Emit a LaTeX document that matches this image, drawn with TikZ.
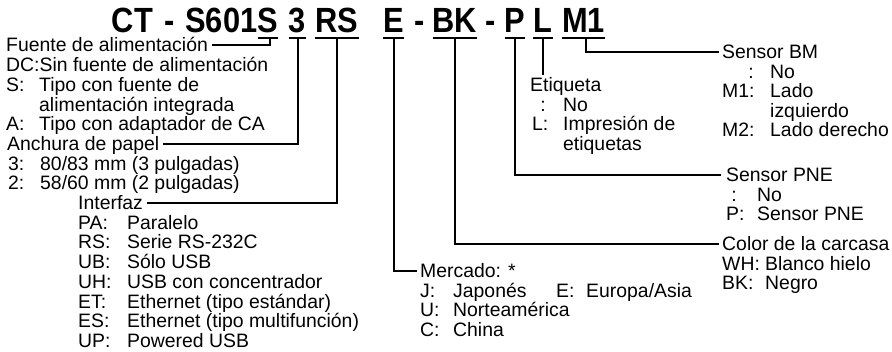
\documentclass[tikz,border=0pt]{standalone}
\usepackage{fontspec}
\setmainfont{Liberation Sans}
\newfontfamily\titlefam{Liberation Sans}[FakeStretch=0.88]
\newcommand\lblfont{\fontsize{19.4}{19.4}\selectfont}
\newcommand\codefont{\titlefam\fontsize{35}{35}\selectfont\bfseries}
\begin{document}
\begin{tikzpicture}[x=1pt,y=-1pt,
  lbl/.style={anchor=base west,inner sep=0pt,font=\lblfont},
  lble/.style={anchor=base east,inner sep=0pt,font=\lblfont},
  code/.style={anchor=base,inner sep=0pt,font=\codefont},
  conn/.style={line width=2pt},
  uln/.style={line width=2pt}]
\useasboundingbox (0,0) rectangle (892,352);

% ---------- title ----------
\node[code] (cS)  at (268,33) {S};
\node[code,anchor=base east] (t0) at (cS.base west) {CT\hspace{3pt} - \hspace{2pt}S601};
\node[code] (c3)  at (297.5,33) {3};
\node[code] (cRS) at (337,33) {RS};
\node[code] (cE)  at (393.5,33) {E};
\node[code] (d1)  at (420,33) {-};
\node[code] (cBK) at (455,33) {BK};
\node[code] (d2)  at (491,33) {-};
\node[code] (cP)  at (515,33) {P};
\node[code] (cL)  at (543,33) {L};
\node[code] (cM)  at (583.5,33) {M1};
\foreach \n in {cS,c3,cRS,cE,cBK,cP,cL,cM}
  \draw[uln] ([yshift=-5.5pt]\n.base west) -- ([yshift=-5.5pt]\n.base east);

% ---------- left column ----------
\node[lbl] (fuente) at (6,52) {Fuente de alimentación};
\node[lbl] (l1) at (6,71.7) {DC:Sin fuente de alimentación};
\node[lbl] (l2k) at (6,91.4) {S:};
\node[lbl] (l2v) at (39,91.4) {Tipo con fuente de};
\node[lbl] (l3v) at (39,111.1) {alimentación integrada};
\node[lbl] (l4k) at (6,130.8) {A:};
\node[lbl] (l4v) at (39,130.8) {Tipo con adaptador de CA};
\node[lbl] (anchura) at (7,150.5) {Anchura de papel};
\node[lbl] (l6k) at (8,170.2) {3:};
\node[lbl] (l6v) at (40,170.2) {80/83 mm (3 pulgadas)};
\node[lbl] (l7k) at (8,189.9) {2:};
\node[lbl] (l7v) at (40,189.9) {58/60 mm (2 pulgadas)};
\node[lbl] (interfaz) at (78,209.6) {Interfaz};
\foreach \k/\v [count=\i] in {PA/Paralelo,RS/Serie RS-232C,UB/Sólo USB,UH/USB con concentrador,ET/Ethernet (tipo estándar),ES/Ethernet (tipo multifunción),UP/Powered USB}{
  \node[lbl] (ik\i) at (78,{229.3+19.7*(\i-1)}) {\k:};
  \node[lbl] (iv\i) at (127,{229.3+19.7*(\i-1)}) {\v};
}

% ---------- Mercado ----------
\node[lbl] (merc) at (420,278) {Mercado: *};
\node[lbl] (m1k) at (420,297.5) {J:};
\node[lbl] (m1v) at (453,297.5) {Japonés};
\node[lbl] (m1k2) at (556,297.5) {E:};
\node[lbl] (m1v2) at (586,297.5) {Europa/Asia};
\node[lbl] (m2k) at (420,317) {U:};
\node[lbl] (m2v) at (453,317) {Norteamérica};
\node[lbl] (m3k) at (420,336.5) {C:};
\node[lbl] (m3v) at (453,336.5) {China};

% ---------- Etiqueta ----------
\node[lbl] (etiq) at (530,92) {Etiqueta};
\node[lble] (e1c) at (546,111.5) {:};
\node[lbl] (e1v) at (563,111.5) {No};
\node[lbl] (e2k) at (532,131) {L:};
\node[lbl] (e2v) at (563,131) {Impresión de};
\node[lbl] (e3v) at (563,150.5) {etiquetas};

% ---------- Sensor BM ----------
\node[lbl] (bm) at (722,59) {Sensor BM};
\node[lble] (bm1c) at (754,78.5) {:};
\node[lbl] (bm1v) at (770,78.5) {No};
\node[lbl] (bm2k) at (722,98) {M1:};
\node[lbl] (bm2v) at (770,98) {Lado};
\node[lbl] (bm3v) at (770,117.5) {izquierdo};
\node[lbl] (bm4k) at (722,137) {M2:};
\node[lbl] (bm4v) at (770,137) {Lado derecho};

% ---------- Sensor PNE ----------
\node[lbl] (pne) at (726,182) {Sensor PNE};
\node[lble] (p1c) at (737,201.5) {:};
\node[lbl] (p1v) at (757,201.5) {No};
\node[lbl] (p2k) at (726,221) {P:};
\node[lbl] (p2v) at (757,221) {Sensor PNE};

% ---------- Color ----------
\node[lbl] (color) at (722,251) {Color de la carcasa};
\node[lbl] (c1k) at (722,270.5) {WH:};
\node[lbl] (c1v) at (765,270.5) {Blanco hielo};
\node[lbl] (c2k) at (722,290) {BK:};
\node[lbl] (c2v) at (765,290) {Negro};

% ---------- connectors ----------
\draw[conn] ([xshift=2pt,yshift=-5.5pt]cS.base)  |- ([xshift=4pt,yshift=6.8pt]fuente.base east);
\draw[conn] ([yshift=-5.5pt]c3.base)  |- ([xshift=4pt,yshift=6.8pt]anchura.base east);
\draw[conn] ([yshift=-5.5pt]cRS.base) |- ([xshift=4pt,yshift=6.8pt]interfaz.base east);
\draw[conn] ([yshift=-5.5pt]cE.base)  |- ([xshift=-3pt,yshift=6.8pt]merc.base west);
\draw[conn] ([yshift=-5.5pt]cBK.base) |- ([xshift=-3pt,yshift=6.8pt]color.base west);
\draw[conn] ([yshift=-5.5pt]cP.base)  |- ([xshift=-5pt,yshift=6.8pt]pne.base west);
\draw[conn] ([xshift=2pt,yshift=-5.5pt]cM.base)  |- ([xshift=-3pt,yshift=6.8pt]bm.base west);
\coordinate (lend) at (cL.base |- etiq.north);
\draw[conn] ([yshift=-5.5pt]cL.base) -- ([yshift=3pt]lend);
\end{tikzpicture}
\end{document}
